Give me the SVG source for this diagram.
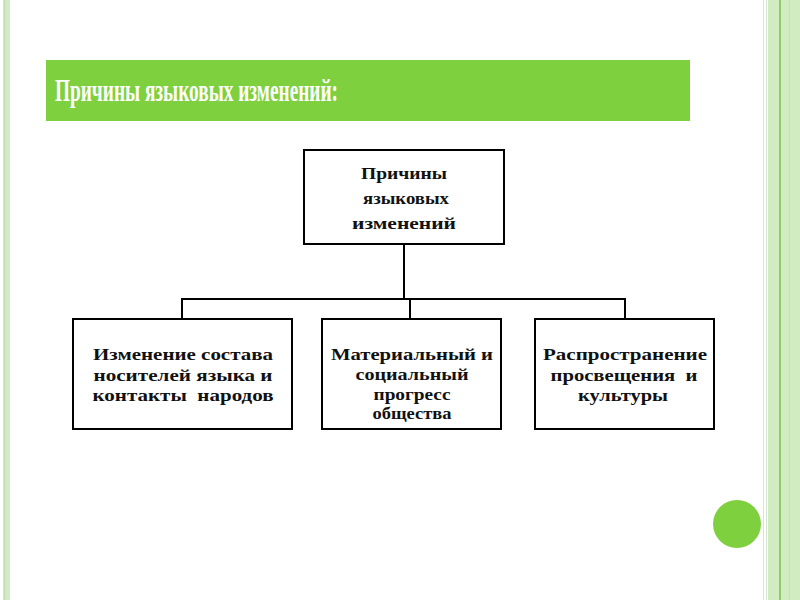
<svg xmlns="http://www.w3.org/2000/svg" width="800" height="600" viewBox="0 0 800 600">
<style>
.box{fill:#fff;stroke:#000;stroke-width:2}
.t{font-family:"Liberation Serif","DejaVu Serif",serif;font-weight:bold;font-size:17px;fill:#111;text-anchor:middle;white-space:pre}
.ttl{font-family:"Liberation Serif","DejaVu Serif",serif;font-weight:bold;font-size:31px;fill:#fff}
.ln{stroke:#000;stroke-width:2;fill:none}
</style>
<rect width="800" height="600" fill="#fff"/>
<g id="frame">
<rect x="3" y="0" width="7" height="600" fill="#d3ebc4"/>
<rect x="4" y="0" width="1" height="600" fill="#c0ddb0"/>
<rect x="763" y="0" width="1" height="600" fill="#d6e6d2"/>
<rect x="766" y="0" width="1" height="600" fill="#d6e6d2"/>
<rect x="768" y="0" width="11" height="600" fill="#d2ecc2"/>
<rect x="779" y="0" width="2" height="600" fill="#8fca70"/>
<rect x="781" y="0" width="19" height="600" fill="#d2ecc2"/>
<rect x="789" y="0" width="1" height="600" fill="#c4e3b0"/>
</g>
<g id="title">
<rect x="46" y="60" width="644" height="61" fill="#7ed03e"/>
<text class="ttl" x="55" y="101" textLength="283" lengthAdjust="spacingAndGlyphs">Причины языковых изменений:</text>
</g>
<g id="connectors">
<path class="ln" d="M404 244V299"/>
<path class="ln" d="M182 319V299H625V319"/>
<path class="ln" d="M410 299V319"/>
</g>
<g id="root">
<rect class="box" x="304" y="150" width="200" height="94"/>
<text class="t" x="404" y="179" textLength="86" lengthAdjust="spacingAndGlyphs">Причины</text>
<text class="t" x="406" y="204" textLength="86" lengthAdjust="spacingAndGlyphs">языковых</text>
<text class="t" x="404" y="229" textLength="104" lengthAdjust="spacingAndGlyphs">изменений</text>
</g>
<g id="n1">
<rect class="box" x="73" y="319" width="219" height="110"/>
<text class="t" x="183" y="360" textLength="180" lengthAdjust="spacingAndGlyphs">Изменение состава</text>
<text class="t" x="183" y="381" textLength="179" lengthAdjust="spacingAndGlyphs">носителей языка и</text>
<text class="t" x="183" y="401" textLength="181" lengthAdjust="spacingAndGlyphs" xml:space="preserve">контакты  народов</text>
</g>
<g id="n2">
<rect class="box" x="322" y="319" width="179" height="110"/>
<text class="t" x="412" y="360" textLength="162" lengthAdjust="spacingAndGlyphs">Материальный и</text>
<text class="t" x="412" y="380" textLength="113" lengthAdjust="spacingAndGlyphs">социальный</text>
<text class="t" x="412" y="400" textLength="77" lengthAdjust="spacingAndGlyphs">прогресс</text>
<text class="t" x="412" y="419" textLength="79" lengthAdjust="spacingAndGlyphs">общества</text>
</g>
<g id="n3">
<rect class="box" x="535" y="319" width="179" height="110"/>
<text class="t" x="625" y="360" textLength="164" lengthAdjust="spacingAndGlyphs">Распространение</text>
<text class="t" x="624" y="381" textLength="147" lengthAdjust="spacingAndGlyphs" xml:space="preserve">просвещения  и</text>
<text class="t" x="623" y="401" textLength="90" lengthAdjust="spacingAndGlyphs">культуры</text>
</g>
<circle id="dot" cx="737" cy="524" r="24" fill="#7ed03e"/>
</svg>
